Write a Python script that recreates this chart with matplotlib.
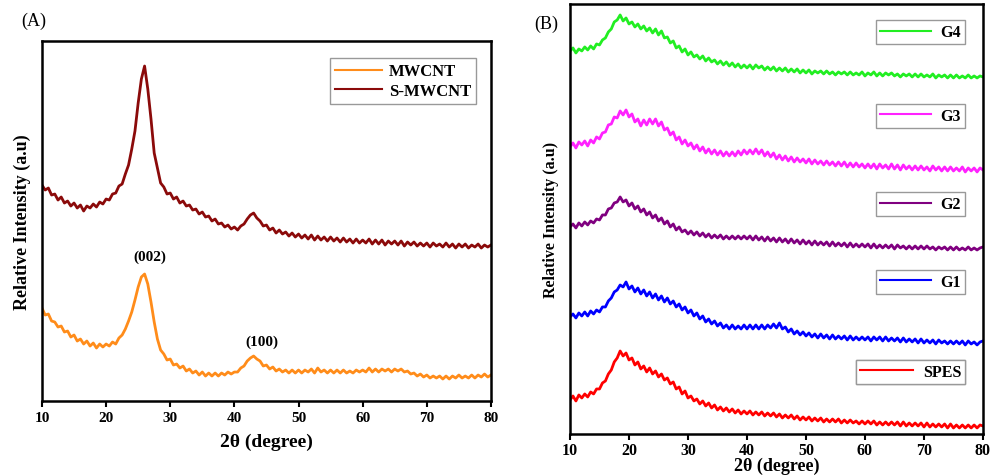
import numpy as np
import matplotlib
matplotlib.use("Agg")
import matplotlib.pyplot as plt

plt.rcParams['font.family'] = ['Liberation Serif', 'DejaVu Serif']
plt.rcParams['font.weight'] = 'bold'

# 2theta grid, 0.5 degree step
two_theta = np.arange(10.0, 80.01, 0.5)

# Panel (A): MWCNT vs S-MWCNT (relative intensity, a.u.)
s_mwcnt = [
    216, 211, 213, 206, 207, 201, 204, 198, 200, 195,
    198, 193, 196, 190, 195, 193, 197, 194, 199, 197,
    202, 201, 207, 208, 215, 217, 227, 236, 252, 270,
    298, 322, 335, 312, 282, 248, 233, 218, 214, 207,
    208, 202, 204, 198, 200, 195, 196, 191, 192, 187,
    189, 184, 185, 180, 182, 177, 178, 174, 176, 172,
    174, 171, 175, 177, 182, 186, 188, 183, 180, 175,
    176, 171, 173, 168, 171, 167, 169, 165, 168, 164,
    167, 163, 166, 162, 166, 161, 165, 161, 164, 160,
    164, 160, 163, 159, 163, 159, 162, 158, 162, 158,
    161, 158, 162, 157, 161, 157, 161, 156, 160, 157,
    160, 156, 160, 155, 159, 156, 159, 155, 158, 155,
    158, 154, 158, 155, 157, 154, 158, 154, 157, 153,
    157, 154, 157, 153, 156, 154, 157, 153, 156, 154,
    156,
]
mwcnt = [
    93, 86, 87, 80, 79, 74, 75, 69, 70, 64,
    66, 60, 62, 57, 60, 55, 58, 53, 57, 54,
    57, 55, 59, 57, 63, 66, 72, 80, 89, 101,
    114, 124, 127, 117, 99, 79, 62, 51, 47, 41,
    42, 36, 37, 33, 35, 30, 32, 28, 30, 26,
    29, 25, 28, 25, 28, 25, 28, 26, 29, 27,
    29, 29, 33, 35, 40, 43, 45, 42, 40, 35,
    36, 32, 34, 30, 32, 29, 31, 28, 31, 28,
    31, 28, 31, 29, 32, 28, 33, 29, 31, 28,
    31, 28, 31, 28, 31, 28, 30, 28, 31, 29,
    31, 29, 33, 29, 32, 29, 32, 30, 32, 29,
    32, 30, 32, 29, 30, 27, 28, 25, 27, 24,
    26, 23, 25, 23, 25, 22, 25, 22, 25, 23,
    26, 23, 25, 23, 26, 23, 26, 24, 27, 24,
    26,
]

# Panel (B): SPES and composite membranes G1-G4
g4 = [
    383, 386, 381, 385, 383, 387, 384, 388, 385, 390,
    389, 394, 396, 402, 405, 412, 414, 419, 413, 416,
    410, 412, 407, 410, 405, 408, 403, 406, 401, 405,
    399, 403, 396, 397, 391, 393, 386, 388, 382, 385,
    379, 382, 377, 379, 375, 378, 373, 376, 372, 374,
    370, 373, 369, 372, 368, 371, 367, 370, 366, 369,
    366, 369, 365, 369, 366, 368, 364, 367, 364, 367,
    363, 366, 363, 366, 362, 365, 362, 365, 361, 364,
    361, 364, 360, 363, 361, 363, 360, 363, 360, 362,
    359, 362, 360, 362, 359, 362, 359, 361, 359, 362,
    358, 361, 359, 362, 358, 361, 358, 361, 359, 361,
    358, 360, 357, 360, 358, 360, 357, 360, 357, 360,
    357, 359, 357, 360, 356, 359, 357, 359, 356, 359,
    356, 359, 356, 358, 356, 359, 356, 358, 356, 358,
    357,
]
g3 = [
    287, 291, 286, 292, 289, 293, 288, 294, 291, 297,
    295, 301, 302, 309, 310, 317, 316, 323, 319, 324,
    317, 320, 312, 315, 308, 314, 309, 315, 310, 315,
    308, 312, 304, 306, 299, 302, 294, 297, 290, 294,
    288, 291, 285, 289, 283, 287, 281, 285, 280, 284,
    279, 283, 278, 282, 278, 282, 278, 283, 279, 284,
    280, 284, 280, 285, 280, 284, 278, 282, 277, 281,
    275, 279, 274, 278, 273, 277, 272, 276, 272, 275,
    271, 275, 270, 274, 270, 273, 269, 273, 269, 272,
    268, 272, 268, 272, 267, 271, 267, 271, 267, 270,
    266, 270, 266, 270, 265, 270, 266, 269, 265, 270,
    265, 269, 264, 269, 265, 268, 264, 268, 264, 268,
    264, 267, 263, 268, 264, 267, 263, 267, 263, 267,
    263, 266, 263, 267, 262, 266, 263, 266, 262, 266,
    264,
]
g2 = [
    207, 210, 206, 211, 208, 212, 209, 213, 211, 215,
    214, 219, 219, 225, 226, 231, 232, 237, 232, 234,
    228, 231, 225, 228, 222, 225, 219, 222, 216, 219,
    213, 216, 210, 213, 207, 210, 204, 207, 202, 204,
    200, 203, 199, 202, 198, 201, 197, 200, 196, 199,
    196, 199, 195, 198, 195, 198, 195, 198, 195, 198,
    195, 198, 194, 198, 194, 197, 193, 197, 193, 196,
    192, 196, 192, 195, 191, 195, 191, 194, 190, 194,
    190, 193, 189, 193, 189, 192, 189, 192, 188, 192,
    188, 191, 188, 191, 187, 191, 187, 190, 187, 190,
    187, 190, 186, 190, 186, 189, 186, 189, 186, 189,
    185, 189, 186, 188, 185, 188, 185, 188, 185, 188,
    185, 188, 185, 187, 184, 187, 185, 187, 184, 187,
    184, 187, 184, 186, 184, 187, 184, 186, 184, 186,
    187,
]
g1 = [
    117, 120, 116, 121, 118, 122, 118, 123, 120, 124,
    122, 127, 127, 133, 136, 142, 144, 149, 147, 152,
    145, 148, 142, 146, 140, 144, 138, 142, 136, 140,
    134, 138, 132, 136, 130, 133, 127, 130, 124, 127,
    121, 124, 118, 121, 115, 118, 112, 115, 110, 113,
    108, 111, 106, 109, 105, 109, 105, 108, 105, 109,
    105, 109, 105, 109, 105, 109, 105, 109, 106, 110,
    106, 111, 105, 107, 102, 105, 100, 103, 99, 102,
    98, 101, 97, 100, 96, 100, 96, 99, 95, 99,
    95, 98, 95, 98, 94, 98, 94, 97, 94, 97,
    94, 97, 93, 97, 94, 97, 93, 97, 93, 96,
    93, 96, 92, 96, 92, 95, 92, 95, 91, 95,
    91, 94, 91, 94, 90, 94, 91, 93, 90, 93,
    90, 93, 90, 93, 89, 93, 90, 92, 89, 92,
    93,
]
spes = [
    34, 38, 33, 39, 36, 40, 37, 42, 40, 45,
    45, 51, 53, 60, 64, 72, 76, 83, 78, 81,
    74, 76, 69, 72, 65, 68, 62, 66, 60, 63,
    57, 60, 54, 56, 50, 52, 45, 47, 40, 43,
    36, 38, 33, 35, 30, 33, 28, 31, 26, 29,
    24, 27, 23, 26, 22, 25, 21, 24, 20, 23,
    20, 23, 19, 22, 19, 22, 18, 21, 18, 21,
    17, 20, 16, 19, 16, 19, 15, 18, 14, 17,
    14, 17, 13, 16, 13, 16, 12, 15, 12, 15,
    12, 15, 11, 14, 11, 14, 11, 13, 10, 13,
    10, 13, 10, 13, 9, 12, 9, 12, 9, 12,
    9, 12, 8, 12, 8, 11, 8, 11, 8, 11,
    7, 11, 7, 10, 7, 10, 7, 10, 6, 10,
    6, 9, 6, 9, 6, 9, 6, 9, 6, 9,
    8,
]

peak_labels = ['(002)', '(100)']
peak_pos = [(26.8, 145), (44.3, 60)]

fig = plt.figure(figsize=(9.92, 4.77), dpi=100)
ax1 = fig.add_axes([0.0423, 0.1572, 0.4526, 0.7547])
ax2 = fig.add_axes([0.5746, 0.0881, 0.4163, 0.9015])

# Panel (A)
ax1.plot(two_theta, mwcnt, color='#FF8C1A', lw=2.0, label='MWCNT')
ax1.plot(two_theta, s_mwcnt, color='#8B0A0A', lw=2.0, label='S-MWCNT')
for lab, (px, py) in zip(peak_labels, peak_pos):
    ax1.text(px, py, lab, ha='center', va='center', fontsize=11, fontweight='bold')
ax1.set_xlim(10, 80)
ax1.set_ylim(0, 360)
ax1.set_yticks([])
ax1.set_xticks(range(10, 81, 10))
ax1.tick_params(axis='x', direction='out', length=4, width=1.5, labelsize=11)
ax1.set_xlabel('2θ (degree)', fontsize=14, fontweight='bold', labelpad=6)
ax1.set_ylabel('Relative Intensity (a.u)', fontsize=13, fontweight='bold', labelpad=8)
leg = ax1.legend(loc='upper right', bbox_to_anchor=(0.985, 0.975), fontsize=12,
                 handlelength=2.8, fancybox=False, framealpha=1, edgecolor='#999999',
                 borderpad=0.3, labelspacing=0.2, handletextpad=0.4)
for ln in leg.get_lines():
    ln.set_linewidth(1.5)
for sp in ax1.spines.values():
    sp.set_linewidth(1.8)
fig.text(0.021, 0.955, '(A)', fontsize=13, fontweight='normal', va='center')

# Panel (B)
series_b = [('G4', g4, '#22EE22', 0.981), ('G3', g3, '#FF22FF', 0.786),
            ('G2', g2, '#800080', 0.581), ('G1', g1, '#0000FF', 0.400),
            ('SPES', spes, '#FF0000', 0.191)]
for name, vals, col, ytop in series_b:
    line, = ax2.plot(two_theta, vals, color=col, lw=2.0)
    hl = 3.3 if name == 'SPES' else 3.2
    lg = ax2.legend([line], [name], loc='upper right', bbox_to_anchor=(0.976, ytop),
                    fontsize=11.5, handlelength=hl, fancybox=False, framealpha=1,
                    edgecolor='#999999', borderpad=0.25, handletextpad=0.6)
    for ln in lg.get_lines():
        ln.set_linewidth(1.5)
    ax2.add_artist(lg)
ax2.set_xlim(10, 80)
ax2.set_ylim(0, 430)
ax2.set_yticks([])
ax2.set_xticks(range(10, 81, 10))
ax2.tick_params(axis='x', direction='out', length=4, width=1.5, labelsize=11.5, pad=2)
ax2.set_xlabel('2θ (degree)', fontsize=13, fontweight='bold', labelpad=-1)
ax2.set_ylabel('Relative Intensity (a.u)', fontsize=11.5, fontweight='bold', labelpad=8)
for sp in ax2.spines.values():
    sp.set_linewidth(1.8)
fig.text(0.539, 0.948, '(B)', fontsize=13, fontweight='normal', va='center')

fig.savefig('out.png', dpi=100)
